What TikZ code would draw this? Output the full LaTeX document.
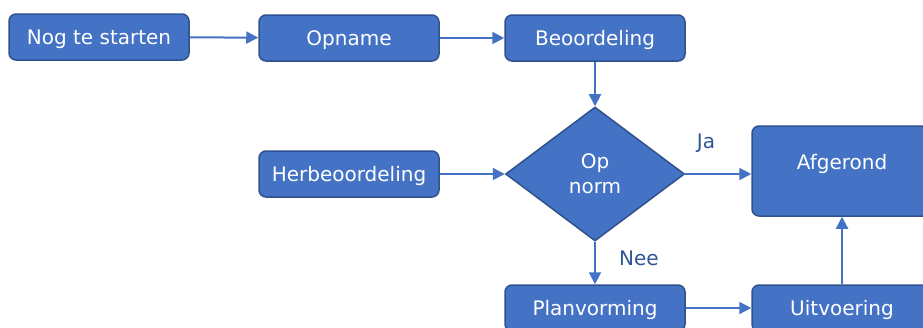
\documentclass[tikz,border=0pt]{standalone}
\usepackage{fontspec}
\setmainfont{DejaVu Sans}
\usetikzlibrary{shapes.geometric,arrows.meta}
\definecolor{boxblue}{HTML}{4472C4}
\definecolor{edgeblue}{HTML}{2F528F}
\definecolor{labelblue}{HTML}{2F5597}
\begin{document}
\begin{tikzpicture}[x=1pt,y=1pt,
		font=\fontsize{20}{25}\selectfont,
		stepbox/.style={rectangle, rounded corners=7pt, fill=boxblue, draw=edgeblue, line width=1.5pt,
			text=white, minimum width=180pt, minimum height=46pt, inner sep=0pt,
			text height=15pt, text depth=0pt},
		choice/.style={diamond, fill=boxblue, draw=edgeblue, line width=1.5pt, text=white,
			minimum width=179pt, minimum height=134pt, aspect=1.34, inner sep=0pt, align=center},
		flow/.style={draw=boxblue, line width=2pt, -{Triangle[length=12pt,width=12pt]}}]
		\useasboundingbox (0,0) rectangle (923,-327);
		\node (start) [stepbox] at (99,-37) {Nog te starten};
		\node (opname) [stepbox] at (349,-38) {Opname};
		\node (beoordeling) [stepbox] at (595,-38) {Beoordeling};
		\node (herbeoordeling) [stepbox] at (349,-174) {Herbeoordeling};
		\node (norm) [choice] at (595,-174) {Op\\norm};
		\node (afgerond) [stepbox, minimum height=90pt, text height=15pt, text depth=19pt, inner ysep=28pt] at (842,-171) {Afgerond};
		\node (planvorming) [stepbox] at (595,-308) {Planvorming};
		\node (uitvoering) [stepbox] at (842,-308) {Uitvoering};
		\draw [flow] (start) -- (opname);
		\draw [flow] (opname) -- (beoordeling);
		\draw [flow] (beoordeling) -- (norm);
		\draw [flow] (herbeoordeling) -- (norm);
		\draw [flow] (norm.east) -- (afgerond.west |- norm.east);
		\draw [flow] (norm) -- (planvorming);
		\draw [flow] (planvorming) -- (uitvoering);
		\draw [flow] (uitvoering) -- (afgerond);
		\node (ja) [text=labelblue] at (706,-143) {Ja};
		\node (nee) [text=labelblue] at (639,-258) {Nee};
		\end{tikzpicture}
\end{document}
